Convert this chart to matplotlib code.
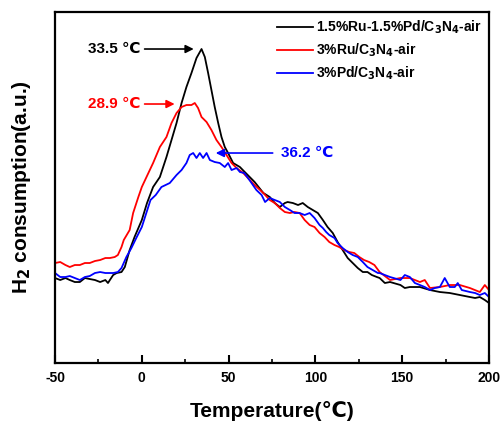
import matplotlib
matplotlib.use("Agg")
import matplotlib.pyplot as plt
from matplotlib.ticker import MultipleLocator

plt.rcParams['font.family'] = ['Liberation Sans', 'DejaVu Sans']
plt.rcParams['font.weight'] = 'bold'
plt.rcParams['axes.unicode_minus'] = False

# Temperature (°C) and H2 consumption (a.u.)
temp_black = [-50, -47, -44, -41.5, -38.6, -35.7, -32.8, -30, -27, -24, -21, -19.5, -18.4, -16.5,
              -14.5, -11.7, -9.8, -7, -4.2, 0, 3, 6.5, 10.4, 14.2, 17.1, 20, 22.9, 25.7, 28.6,
              31.5, 34.4, 36.3, 38.2, 40.1, 42, 44, 45.9, 47.8, 49.7, 52.6, 56.5, 59.3, 65, 70,
              73.7, 76.6, 79.5, 82.4, 84, 87, 90, 92.7, 95.6, 98.5, 101.4, 104.3, 107, 110,
              112.8, 115.7, 118.6, 121.5, 124.4, 127.3, 130, 132.5, 135.4, 137, 140, 143, 149,
              151.5, 154.4, 160.2, 166, 171.7, 177.4, 183.2, 189, 192, 194.7, 197.6, 200]
h2_black = [85, 83, 85, 83, 81, 81, 85, 84, 83, 81, 83, 80, 83, 88,
            90, 91, 96, 113, 126, 143, 160, 176, 186, 206, 223, 240, 260, 276, 290,
            305, 314, 306, 290, 273, 256, 240, 226, 216, 210, 200, 196, 191, 181, 170,
            166, 160, 156, 160, 161, 160, 158, 160, 156, 153, 150, 143, 136, 130,
            121, 113, 105, 100, 95, 91, 91, 88, 86, 85, 80, 81, 78,
            75, 76, 76, 73, 71, 70, 68, 66, 65, 66, 63, 60]

temp_red = [-50, -47, -44, -41.5, -38.6, -35.7, -32.8, -30, -27, -24, -21, -18.4, -15.6, -13.8,
            -11.7, -10.4, -7, -5, -2, 0, 2.7, 6.5, 10.4, 14.2, 17.1, 20, 22.9, 25.7, 28.6,
            30.5, 32.4, 34.4, 37.3, 40.1, 43, 45.9, 48.8, 51.7, 54.6, 58.4, 65, 70, 73.7, 76.6,
            79.5, 82.4, 85.3, 88, 90.9, 93.8, 96.7, 99.5, 102.4, 105.3, 108, 111, 113.7, 116.6,
            119.5, 122.4, 125.3, 128, 131, 134, 137, 143, 149, 154.4, 160.2, 163, 166, 171.7,
            177.4, 183.2, 189, 194.7, 197.6, 200]
h2_red = [100, 101, 98, 96, 98, 98, 100, 100, 102, 103, 105, 105, 106, 108,
          116, 123, 133, 150, 166, 176, 186, 200, 216, 226, 240, 250, 256, 258, 258,
          260, 255, 246, 241, 233, 223, 216, 208, 200, 195, 190, 178, 170, 163, 160,
          155, 151, 150, 151, 150, 143, 138, 136, 130, 126, 121, 118, 116, 113,
          111, 110, 106, 103, 101, 98, 91, 83, 85, 85, 81, 83, 75, 76,
          78, 78, 75, 71, 78, 73]

temp_blue = [-50, -47, -44, -41.5, -38.6, -35.7, -32.8, -30, -27, -24, -21, -18.4, -16.5, -13.8,
             -11.7, -8.9, -6, -3.2, 0, 5, 8, 11.3, 16.1, 20, 22.9, 25.7, 27.6, 29.6, 31.5,
             33.4, 35.3, 37.3, 39.2, 42, 44.9, 47.8, 49.7, 51.7, 54.6, 56.5, 59, 62, 66, 69,
             71, 73.7, 76.6, 79.5, 82.4, 85.3, 88, 90.9, 93.8, 96.7, 99.5, 102.4, 104.3, 106.2,
             108, 111, 112.8, 115.7, 118.6, 121.5, 124.4, 127.3, 130, 133, 136, 137, 143, 149,
             151.5, 154.4, 157.3, 160.2, 163, 166, 168.8, 171.7, 174.5, 177.4, 180.3, 182,
             184.3, 189, 192, 194.7, 197.6, 200]
h2_blue = [90, 86, 86, 87, 85, 83, 86, 87, 90, 91, 90, 90, 90, 91,
           95, 106, 115, 125, 136, 163, 168, 176, 180, 188, 193, 200, 208, 210, 205,
           210, 205, 210, 203, 201, 200, 196, 200, 193, 195, 191, 190, 183, 173, 168,
           161, 165, 163, 161, 156, 153, 150, 150, 148, 150, 145, 138, 135, 131,
           128, 125, 120, 115, 111, 108, 106, 101, 96, 93, 90, 90, 86, 83,
           88, 86, 80, 78, 76, 73, 75, 76, 85, 76, 76, 80,
           73, 71, 70, 68, 70, 66]

labels = ['1.5%Ru-1.5%Pd/C$_3$N$_4$-air', '3%Ru/C$_3$N$_4$-air', '3%Pd/C$_3$N$_4$-air']
colors = ['black', '#ff0000', '#0000ff']

fig = plt.figure(figsize=(5.02, 4.23), dpi=100)
ax = fig.add_axes([0.1096, 0.1418, 0.8645, 0.8298])

ax.plot(temp_black, h2_black, color=colors[0], lw=1.3, label=labels[0])
ax.plot(temp_red, h2_red, color=colors[1], lw=1.3, label=labels[1])
ax.plot(temp_blue, h2_blue, color=colors[2], lw=1.3, label=labels[2])

ax.set_xlim(-50, 200)
ax.set_ylim(0, 351)
ax.xaxis.set_major_locator(MultipleLocator(50))
ax.xaxis.set_minor_locator(MultipleLocator(25))
ax.set_yticks([])
ax.tick_params(axis='x', which='major', direction='in', length=6, width=1.5, labelsize=10, pad=6)
ax.tick_params(axis='x', which='minor', direction='in', length=3, width=1.2)
for lab in ax.get_xticklabels():
    lab.set_fontweight('bold')
for s in ax.spines.values():
    s.set_linewidth(1.6)

ax.set_xlabel('Temperature(℃)', fontsize=15, fontweight='bold', labelpad=11)
ax.set_ylabel('H$_2$ consumption(a.u.)', fontsize=15, fontweight='bold', labelpad=16)

ax.legend(loc='upper right', frameon=False, handlelength=2.6,
          handletextpad=0.2, labelspacing=0.4, borderaxespad=0.1,
          prop={'weight': 'bold', 'size': 10})

# Peak annotations
ax.annotate('', xy=(31.5, 314), xytext=(0, 314),
            arrowprops=dict(arrowstyle='-|>', color='black', lw=1.2, mutation_scale=12))
ax.text(-1, 314, '33.5 ℃', color='black', fontsize=11, fontweight='bold', ha='right', va='center')
ax.annotate('', xy=(20.5, 259), xytext=(0, 259),
            arrowprops=dict(arrowstyle='-|>', color='#ff0000', lw=1.2, mutation_scale=12))
ax.text(-1, 259, '28.9 ℃', color='#ff0000', fontsize=11, fontweight='bold', ha='right', va='center')
ax.annotate('', xy=(41, 210), xytext=(77, 210),
            arrowprops=dict(arrowstyle='-|>', color='#0000ff', lw=1.2, mutation_scale=12))
ax.text(80, 210, '36.2 ℃', color='#0000ff', fontsize=11, fontweight='bold', ha='left', va='center')

fig.savefig('out.png', dpi=100)
